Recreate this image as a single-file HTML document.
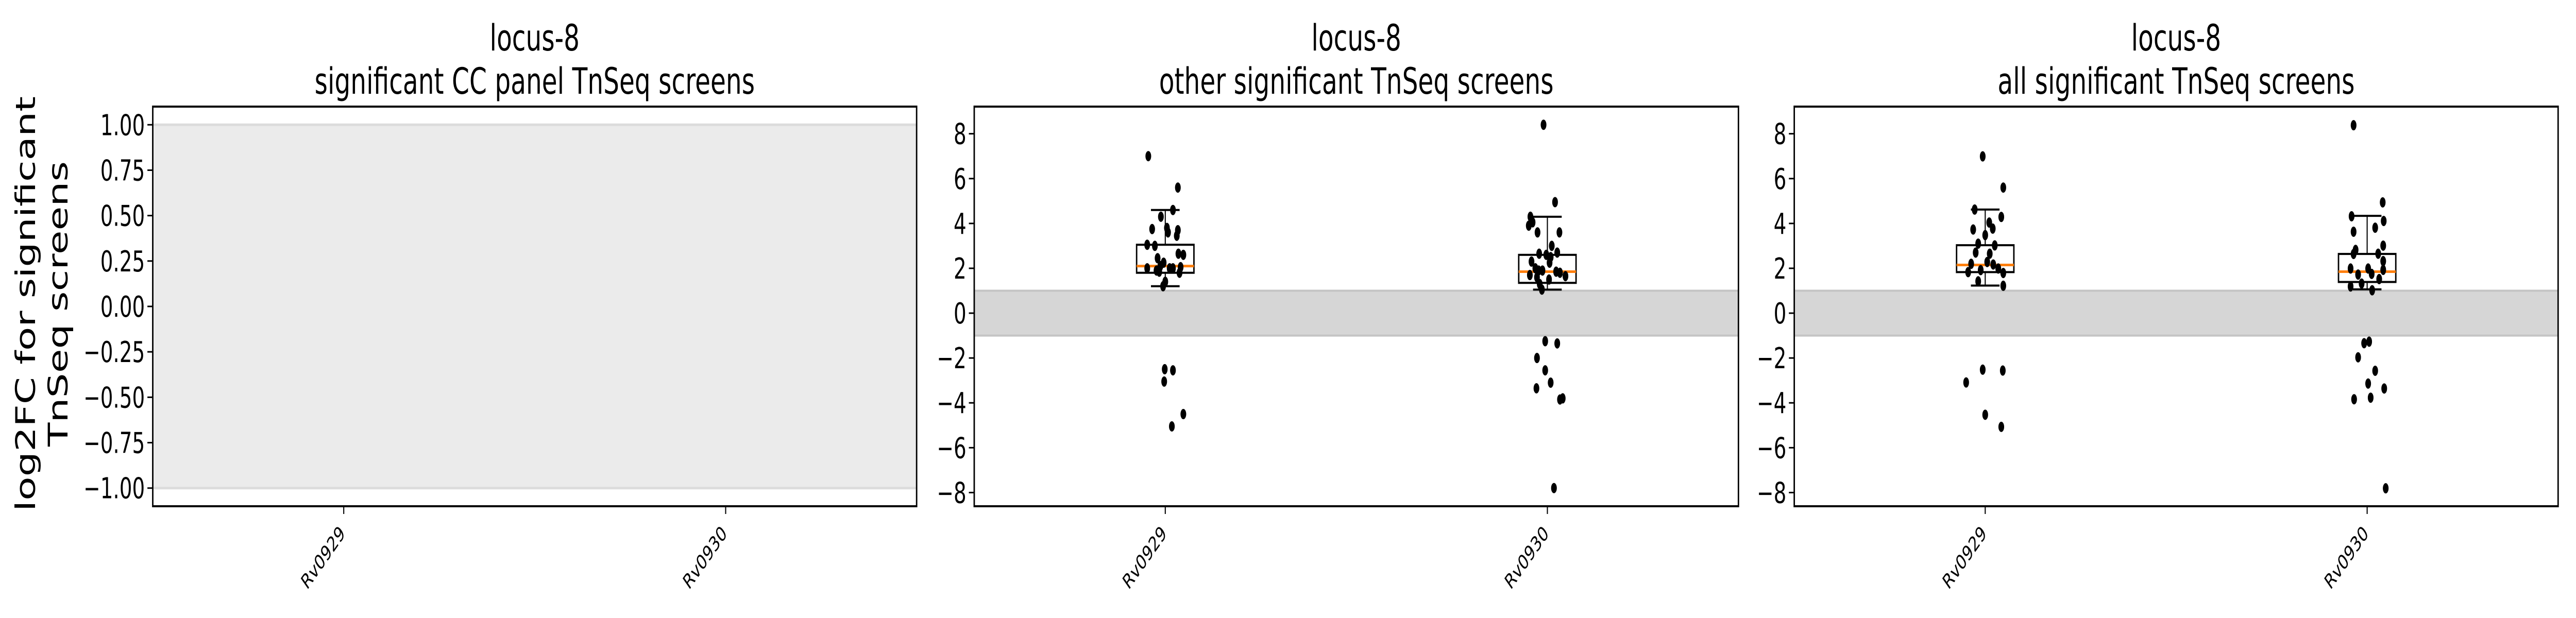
<!DOCTYPE html>
<html><head><meta charset="utf-8"><style>
html,body{margin:0;padding:0;background:#fff;width:100%;height:100%;overflow:hidden;}
svg{display:block;width:100vw;height:100vh;font-family:"DejaVu Sans","Liberation Sans",sans-serif;}
</style></head><body>
<svg id="chart" xmlns="http://www.w3.org/2000/svg" viewBox="0 0 7200 1200" preserveAspectRatio="none"></svg>
<script>
const categories = ["Rv0929", "Rv0930"];
const panelTitles = ["significant CC panel TnSeq screens", "other significant TnSeq screens", "all significant TnSeq screens"];
const leftTicks = [-1.0, -0.75, -0.5, -0.25, 0, 0.25, 0.5, 0.75, 1.0];
const leftTickLabels = ["\u22121.00","\u22120.75","\u22120.50","\u22120.25","0.00","0.25","0.50","0.75","1.00"];
const bigTicks = [-8,-6,-4,-2,0,2,4,6,8];
const bigTickLabels = ["\u22128","\u22126","\u22124","\u22122","0","2","4","6","8"];

// panel 2 (other significant screens)
const otherRv0929 = [7.0,5.6,4.6,4.3,3.75,3.8,3.6,3.7,3.45,3.05,3.0,2.45,2.65,2.6,2.25,2.0,2.1,1.9,2.0,2.0,2.05,1.8,1.85,1.4,1.2,-2.5,-2.55,-3.05,-4.5,-5.05];
const otherRv0929Jitter = [-31,23,14,-8,-24,3,5,23,21,-33,-19,-14,24,33,-3,-33,-9,-16,8,14,28,26,-11,0,-4,-1,14,-2,33,12];
const otherRv0930 = [8.4,4.95,4.3,4.05,3.9,3.6,3.6,3.0,2.7,2.65,2.6,2.5,2.3,2.25,2.0,1.9,1.7,1.9,1.85,1.8,1.65,1.6,1.5,1.3,1.05,-1.25,-1.35,-2.0,-2.55,-3.1,-3.35,-3.85,-3.8,-7.8];
const otherRv0930Jitter = [-7,14,-31,-27,-34,22,-18,8,18,-15,-2,6,-29,4,-22,-16,-32,-9,16,23,33,-19,3,-14,-10,-4,18,-19,-4,6,-20,23,28,12];
const otherStats = [[1.2,1.8,2.1,3.05,4.6],[1.05,1.35,1.85,2.6,4.3]];

// panel 3 (all significant screens)
const allRv0929 = [6.99,5.6,4.62,4.29,4.04,3.77,3.73,3.48,3.1,3.02,2.7,2.65,2.2,2.28,2.17,1.83,1.92,1.99,1.79,1.42,1.22,-2.52,-2.56,-3.09,-4.53,-5.07];
const allRv0929Jitter = [-5,36,-21,32,8,15,-24,0,-14,19,-19,9,-28,4,16,-34,-9,26,36,-14,36,-5,35,-38,0,32];
const allRv0930 = [8.38,4.94,4.32,4.11,3.81,3.63,3.01,2.82,2.64,2.65,2.32,1.99,1.99,1.93,1.72,1.75,1.52,1.32,1.19,1.02,-1.27,-1.34,-1.97,-2.57,-3.14,-3.36,-3.84,-3.77,-7.81];
const allRv0930Jitter = [-27,31,-31,33,16,-27,32,-23,-27,22,32,-33,2,32,-18,9,24,-11,-33,10,4,-6,-18,16,2,34,-26,7,37];
const allStats = [[1.23,1.83,2.15,3.03,4.62],[1.06,1.39,1.85,2.64,4.34]];

const NS = "http://www.w3.org/2000/svg";
const svg = document.getElementById('chart');
function el(tag, attrs, parent, text){
  const e = document.createElementNS(NS, tag);
  for (const k in attrs) e.setAttribute(k, attrs[k]);
  if (text !== undefined) e.textContent = text;
  (parent||svg).appendChild(e);
  return e;
}
const TOP = 207, BOT = 983;
const panelsX = [[427,2562],[2723,4859],[5015,7150]];

function makePanel(idx, ylim, ticks, tickLabels, mode, series, jitters, jitScale, stats){
  const [x0,x1] = panelsX[idx];
  const g = el('g', {});
  
  
  const xs = v => x0 + (v + 0.5) / 2 * (x1 - x0);
  const ys = v => BOT - (v - ylim[0]) / (ylim[1] - ylim[0]) * (BOT - TOP);
  if (mode === 'light') {
    const b = el('rect', {x:x0, y:ys(1), width:x1-x0, height:ys(-1)-ys(1), fill:'#ebebeb'}, g);
    
    
    el('line', {x1:x0,x2:x1,y1:ys(1),y2:ys(1),stroke:'#dcdcdc','stroke-width':5}, g);
    el('line', {x1:x0,x2:x1,y1:ys(-1),y2:ys(-1),stroke:'#dcdcdc','stroke-width':5}, g);
  } else {
    const b = el('rect', {x:x0, y:ys(1), width:x1-x0, height:ys(-1)-ys(1), fill:'#d6d6d6'}, g);
    
    
    el('line', {x1:x0,x2:x1,y1:ys(1),y2:ys(1),stroke:'#c4c4c4','stroke-width':4}, g);
    el('line', {x1:x0,x2:x1,y1:ys(-1),y2:ys(-1),stroke:'#c4c4c4','stroke-width':4}, g);
  }
  if (stats) {
    stats.forEach((s, i) => {
      const cx = xs(i), bw = 0.15 * (x1-x0)/2, cw = 0.075*(x1-x0)/2;
      const bg = el('g', {}, g);
      
      
      el('line', {x1:cx,x2:cx,y1:ys(s[0]),y2:ys(s[1]),stroke:'#000','stroke-width':3}, bg);
      el('line', {x1:cx,x2:cx,y1:ys(s[3]),y2:ys(s[4]),stroke:'#000','stroke-width':3}, bg);
      el('line', {x1:cx-cw/2,x2:cx+cw/2,y1:ys(s[0]),y2:ys(s[0]),stroke:'#000','stroke-width':4}, bg);
      el('line', {x1:cx-cw/2,x2:cx+cw/2,y1:ys(s[4]),y2:ys(s[4]),stroke:'#000','stroke-width':4}, bg);
      el('rect', {x:cx-bw/2,y:ys(s[3]),width:bw,height:ys(s[1])-ys(s[3]),fill:'#fff',stroke:'#000','stroke-width':4}, bg);
      el('line', {x1:cx-bw/2,x2:cx+bw/2,y1:ys(s[2]),y2:ys(s[2]),stroke:'#ff7f0e','stroke-width':5}, bg);
    });
  }
  if (series) {
    series.forEach((vals, i) => {
      vals.forEach((v, j) => {
        const c = el('ellipse', {cx: xs(i + jitters[i][j]*jitScale), cy: ys(v), rx:8, ry:10, fill:'#000'}, g);
        
        
      });
    });
  }
  const fr = el('rect', {x:x0,y:TOP,width:x1-x0,height:BOT-TOP,fill:'none',stroke:'#000','stroke-width':4}, g);
  
  
  ticks.forEach((t, k) => {
    el('line', {x1:x0-15,x2:x0,y1:ys(t),y2:ys(t),stroke:'#000','stroke-width':3}, g);
    const tl = el('text', {x:x0-22, y:ys(t)+20, 'text-anchor':'end', 'font-size':56, fill:'#000'}, g, tickLabels[k]);
    
    
  });
  categories.forEach((c, i) => {
    const x = xs(i);
    el('line', {x1:x,x2:x,y1:BOT,y2:BOT+15,stroke:'#000','stroke-width':3}, g);
    const tl = el('text', {x:x+6, y:BOT+55, 'text-anchor':'end', 'font-size':40, fill:'#000', transform:`rotate(-45 ${x+6} ${BOT+55})`}, g, c);
    
    
  });
  const cx = (x0+x1)/2;
  const t1 = el('text', {x:cx, y:98, 'text-anchor':'middle', 'font-size':70, fill:'#000'}, g, 'locus-8');
  
  
  const t2 = el('text', {x:cx, y:182, 'text-anchor':'middle', 'font-size':70, fill:'#000'}, g, panelTitles[idx]);
  
  
}

makePanel(0, [-1.1, 1.1], leftTicks, leftTickLabels, 'light', null, null, 0, null);
makePanel(1, [-8.61, 9.21], bigTicks, bigTickLabels, 'dark', [otherRv0929, otherRv0930], [otherRv0929Jitter, otherRv0930Jitter], 0.001433, otherStats);
makePanel(2, [-8.61, 9.21], bigTicks, bigTickLabels, 'dark', [allRv0929, allRv0930], [allRv0929Jitter, allRv0930Jitter], 0.001314, allStats);

const yl = el('text', {x:0, y:0, 'text-anchor':'middle', 'font-size':76, fill:'#000', transform:'translate(98 590) rotate(-90)'});


el('tspan', {x:0, dy:0}, yl, 'log2FC for significant');
el('tspan', {x:0, dy:91}, yl, 'TnSeq screens');
</script>
</body></html>
